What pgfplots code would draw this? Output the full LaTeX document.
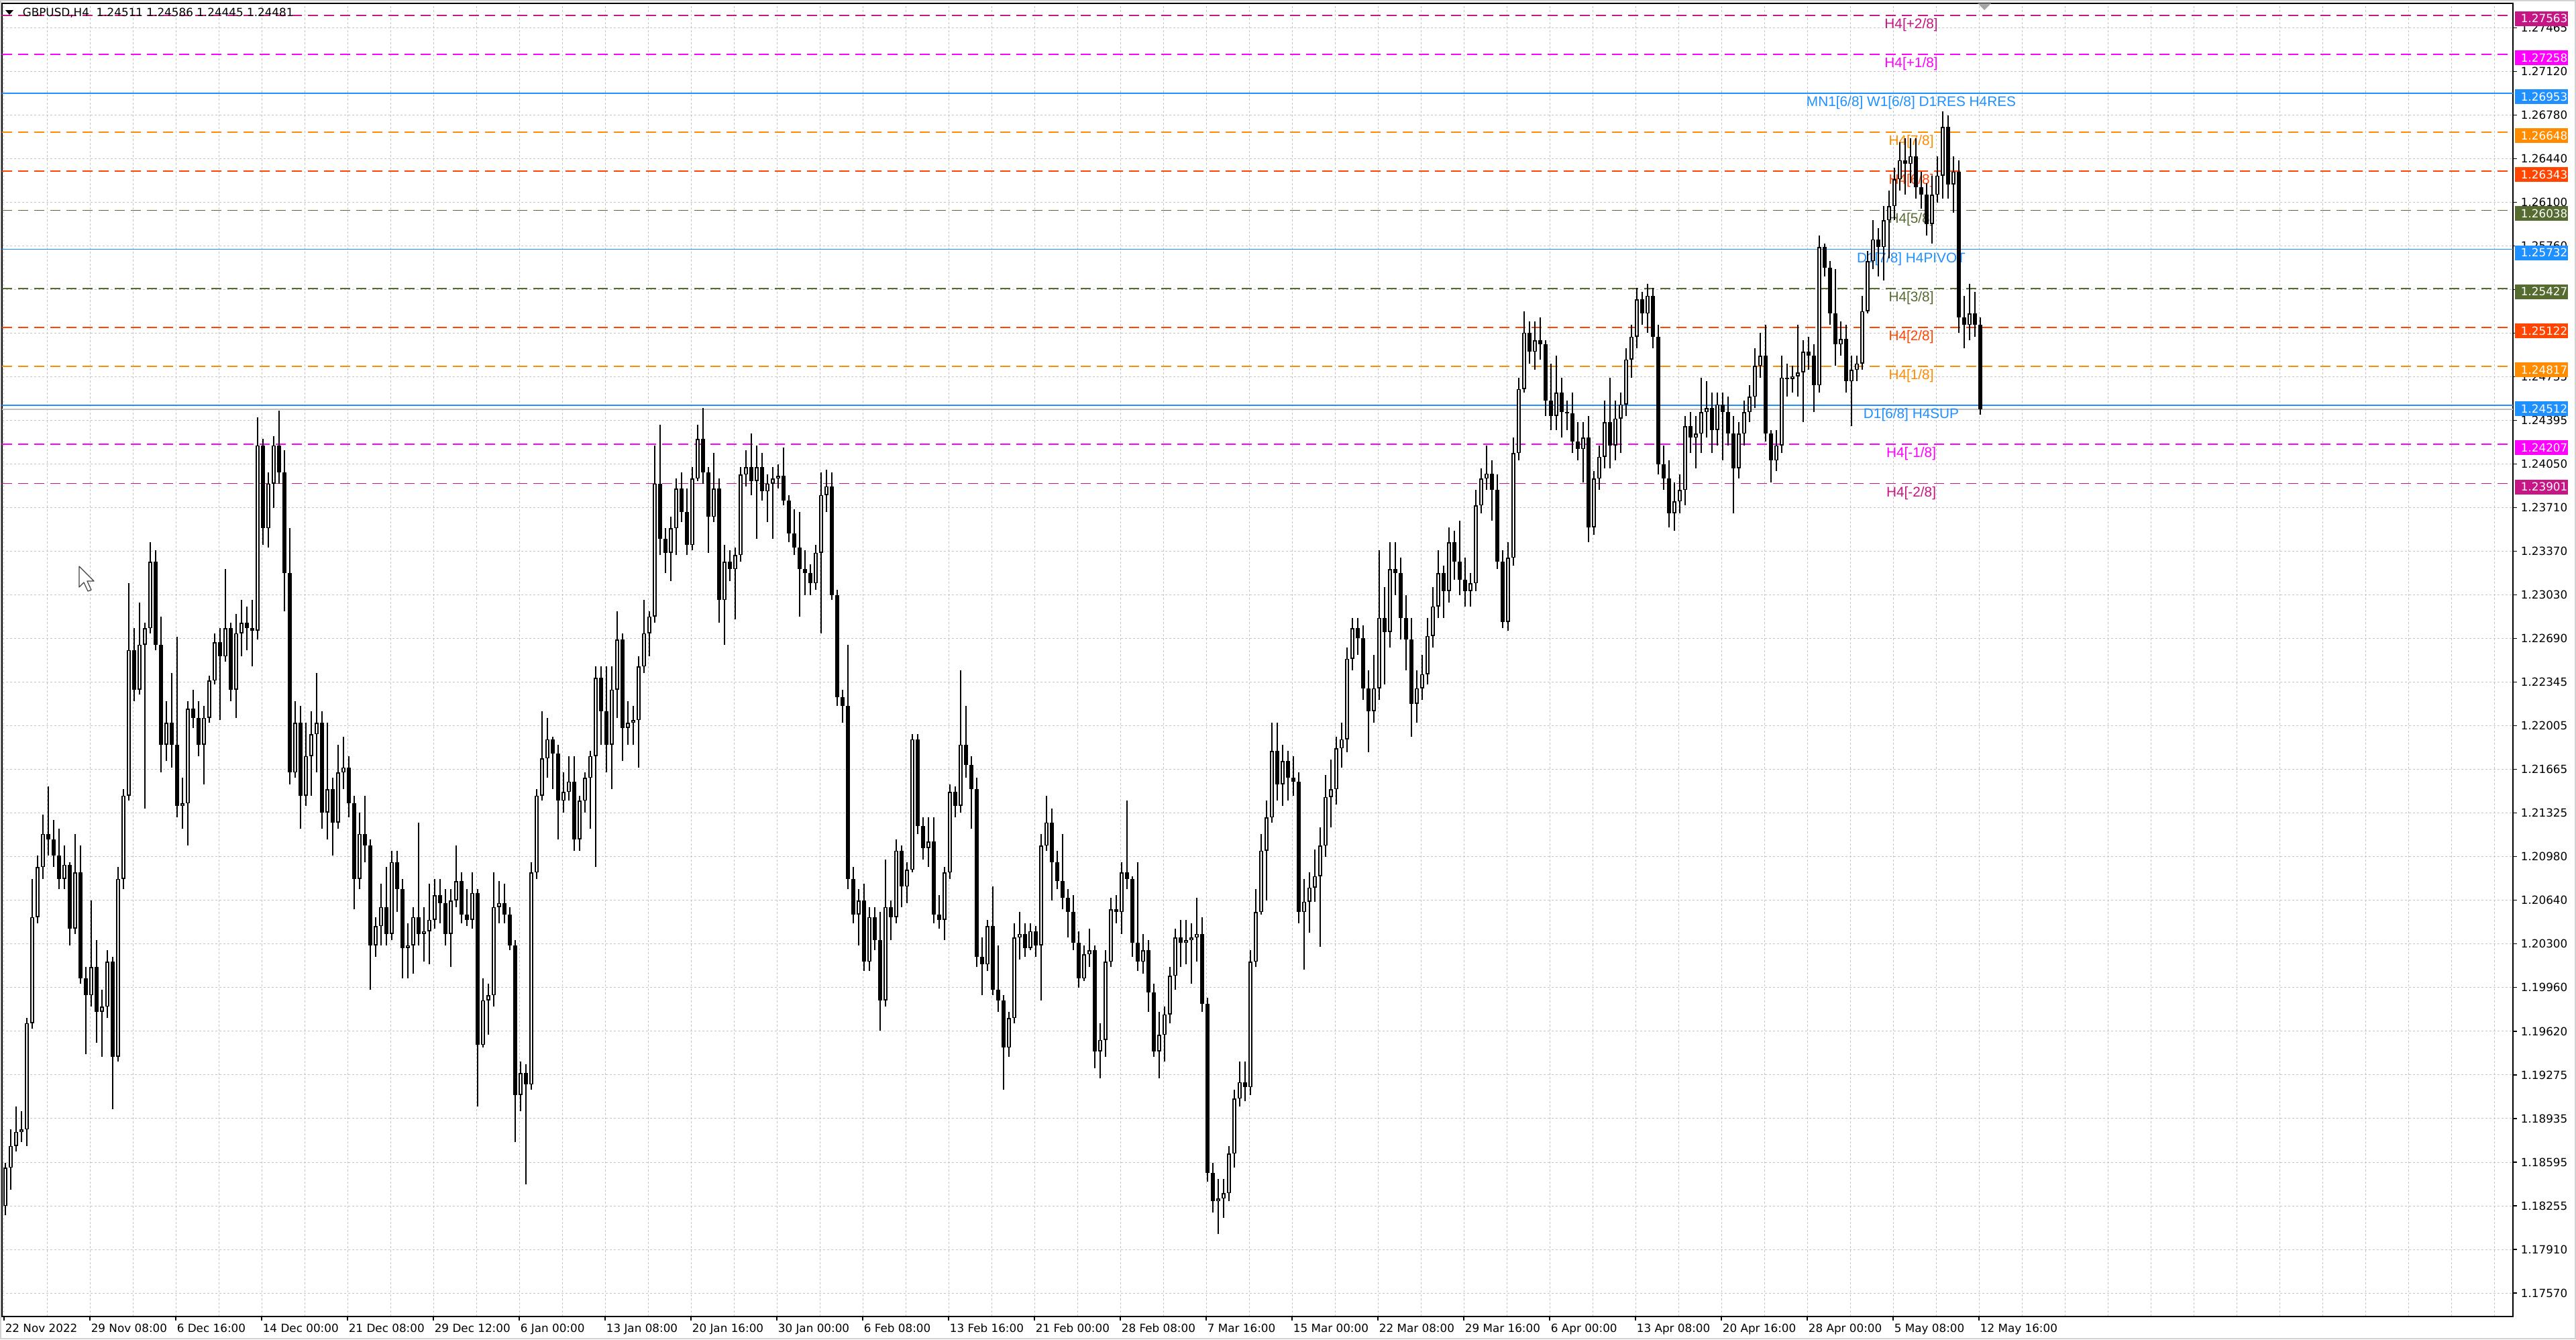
\documentclass[border=0pt]{standalone}
\usepackage{fontspec}
\setmainfont{DejaVu Sans}
\newfontfamily\labf{Liberation Sans}
\usepackage{pgfplots}
\usepackage{pgfplotstable}
\pgfplotsset{compat=1.18}

\definecolor{mvr}{HTML}{C71585}
\definecolor{mag}{HTML}{FF00FF}
\definecolor{dblue}{HTML}{1E90FF}
\definecolor{dorange}{HTML}{FF8C00}
\definecolor{ored}{HTML}{FF4500}
\definecolor{olive}{HTML}{556B2F}
\definecolor{gridc}{HTML}{C4C4C4}
\definecolor{bidc}{HTML}{C0C0C0}

\newcommand\axf{\fontsize{4.2}{5}\selectfont}
\newcommand\lvl{\labf\fontsize{5.2}{6}\selectfont}

% GBPUSD H4, two bars per candle: open high low close
\pgfplotstableread{
o h l c
1.1825 1.1859 1.1818 1.1855
1.1855 1.1885 1.1838 1.1872
1.1872 1.1903 1.1868 1.1883
1.1883 1.1899 1.1875 1.1885
1.1885 1.1972 1.1872 1.1968
1.1968 1.2081 1.1964 1.2051
1.2051 1.2099 1.2046 1.2090
1.2090 1.2131 1.2081 1.2116
1.2116 1.2153 1.2099 1.2112
1.2112 1.2127 1.2090 1.2099
1.2099 1.2120 1.2073 1.2081
1.2081 1.2107 1.2073 1.2092
1.2092 1.2094 1.2029 1.2042
1.2042 1.2116 1.2038 1.2086
1.2086 1.2107 1.1999 1.2003
1.2003 1.2012 1.1944 1.1990
1.1990 1.2064 1.1981 1.2012
1.2012 1.2033 1.1953 1.1977
1.1977 1.1994 1.1942 1.1981
1.1981 1.2025 1.1972 1.2016
1.2016 1.2020 1.1901 1.1942
1.1942 1.2090 1.1938 1.2081
1.2081 1.2151 1.2073 1.2146
1.2146 1.2312 1.2142 1.2260
1.2260 1.2277 1.2220 1.2229
1.2229 1.2297 1.2225 1.2264
1.2264 1.2281 1.2136 1.2277
1.2277 1.2344 1.2273 1.2329
1.2329 1.2338 1.2260 1.2264
1.2264 1.2286 1.2164 1.2186
1.2186 1.2220 1.2173 1.2203
1.2203 1.2242 1.2168 1.2186
1.2186 1.2270 1.2129 1.2138
1.2138 1.2160 1.2120 1.2140
1.2140 1.2220 1.2107 1.2214
1.2214 1.2229 1.2199 1.2207
1.2207 1.2220 1.2177 1.2186
1.2186 1.2216 1.2155 1.2207
1.2207 1.2240 1.2203 1.2236
1.2236 1.2273 1.2233 1.2266
1.2266 1.2277 1.2205 1.2255
1.2255 1.2323 1.2251 1.2277
1.2277 1.2281 1.2220 1.2229
1.2229 1.2288 1.2207 1.2273
1.2273 1.2299 1.2255 1.2281
1.2281 1.2294 1.2260 1.2277
1.2277 1.2299 1.2247 1.2275
1.2275 1.2442 1.2268 1.2420
1.2420 1.2425 1.2342 1.2355
1.2355 1.2399 1.2340 1.2390
1.2390 1.2427 1.2371 1.2420
1.2420 1.2447 1.2390 1.2399
1.2399 1.2416 1.2290 1.2320
1.2320 1.2355 1.2155 1.2164
1.2164 1.2220 1.2160 1.2203
1.2203 1.2216 1.2120 1.2146
1.2146 1.2203 1.2138 1.2177
1.2177 1.2212 1.2146 1.2194
1.2194 1.2242 1.2164 1.2203
1.2203 1.2212 1.2120 1.2133
1.2133 1.2203 1.2112 1.2151
1.2151 1.2160 1.2099 1.2125
1.2125 1.2186 1.2120 1.2164
1.2164 1.2192 1.2151 1.2168
1.2168 1.2177 1.2129 1.2140
1.2140 1.2146 1.2057 1.2081
1.2081 1.2133 1.2073 1.2116
1.2116 1.2146 1.2094 1.2107
1.2107 1.2112 1.1994 1.2029
1.2029 1.2051 1.2020 1.2044
1.2044 1.2077 1.2029 1.2059
1.2059 1.2090 1.2029 1.2038
1.2038 1.2103 1.2033 1.2094
1.2094 1.2103 1.2055 1.2073
1.2073 1.2081 1.2003 1.2027
1.2027 1.2046 1.2003 1.2029
1.2029 1.2059 1.2007 1.2051
1.2051 1.2125 1.2029 1.2038
1.2038 1.2059 1.2016 1.2040
1.2040 1.2077 1.2014 1.2049
1.2049 1.2081 1.2042 1.2068
1.2068 1.2081 1.2046 1.2062
1.2062 1.2073 1.2029 1.2038
1.2038 1.2073 1.2012 1.2064
1.2064 1.2107 1.2059 1.2079
1.2079 1.2086 1.2046 1.2053
1.2053 1.2073 1.2044 1.2049
1.2049 1.2086 1.2042 1.2070
1.2070 1.2073 1.1903 1.1951
1.1951 1.2003 1.1949 1.1986
1.1986 1.1999 1.1959 1.1990
1.1990 1.2086 1.1981 1.2059
1.2059 1.2079 1.2046 1.2062
1.2062 1.2077 1.2046 1.2053
1.2053 1.2059 1.2025 1.2029
1.2029 1.2033 1.1875 1.1912
1.1912 1.1938 1.1899 1.1929
1.1929 1.1936 1.1842 1.1920
1.1920 1.2094 1.1916 1.2086
1.2086 1.2151 1.2081 1.2146
1.2146 1.2212 1.2142 1.2175
1.2175 1.2207 1.2160 1.2190
1.2190 1.2192 1.2151 1.2179
1.2179 1.2186 1.2112 1.2142
1.2142 1.2164 1.2133 1.2149
1.2149 1.2177 1.2142 1.2157
1.2157 1.2177 1.2103 1.2112
1.2112 1.2146 1.2103 1.2142
1.2142 1.2164 1.2133 1.2160
1.2160 1.2181 1.2120 1.2177
1.2177 1.2247 1.2090 1.2238
1.2238 1.2247 1.2186 1.2212
1.2212 1.2247 1.2164 1.2186
1.2186 1.2247 1.2151 1.2229
1.2229 1.2290 1.2207 1.2268
1.2268 1.2273 1.2173 1.2199
1.2199 1.2220 1.2186 1.2203
1.2203 1.2216 1.2186 1.2205
1.2205 1.2255 1.2168 1.2247
1.2247 1.2299 1.2242 1.2273
1.2273 1.2290 1.2255 1.2286
1.2286 1.2420 1.2281 1.2390
1.2390 1.2436 1.2334 1.2347
1.2347 1.2355 1.2320 1.2336
1.2336 1.2364 1.2314 1.2355
1.2355 1.2394 1.2334 1.2386
1.2386 1.2399 1.2360 1.2368
1.2368 1.2386 1.2334 1.2342
1.2342 1.2403 1.2338 1.2394
1.2394 1.2436 1.2392 1.2425
1.2425 1.2449 1.2390 1.2399
1.2399 1.2403 1.2336 1.2364
1.2364 1.2414 1.2360 1.2386
1.2386 1.2394 1.2281 1.2299
1.2299 1.2342 1.2264 1.2329
1.2329 1.2338 1.2314 1.2323
1.2323 1.2340 1.2284 1.2334
1.2334 1.2403 1.2329 1.2397
1.2397 1.2416 1.2388 1.2403
1.2403 1.2429 1.2381 1.2392
1.2392 1.2420 1.2347 1.2403
1.2403 1.2414 1.2377 1.2384
1.2384 1.2397 1.2360 1.2390
1.2390 1.2403 1.2347 1.2394
1.2394 1.2405 1.2386 1.2396
1.2396 1.2418 1.2373 1.2377
1.2377 1.2381 1.2344 1.2351
1.2351 1.2370 1.2334 1.2340
1.2340 1.2368 1.2286 1.2323
1.2323 1.2338 1.2303 1.2320
1.2320 1.2327 1.2303 1.2312
1.2312 1.2342 1.2307 1.2336
1.2336 1.2399 1.2273 1.2381
1.2381 1.2401 1.2368 1.2388
1.2388 1.2399 1.2299 1.2303
1.2303 1.2307 1.2216 1.2223
1.2223 1.2229 1.2203 1.2216
1.2216 1.2264 1.2073 1.2081
1.2081 1.2090 1.2046 1.2053
1.2053 1.2073 1.2029 1.2064
1.2064 1.2077 1.2009 1.2016
1.2016 1.2059 1.2009 1.2051
1.2051 1.2059 1.2025 1.2033
1.2033 1.2055 1.1962 1.1986
1.1986 1.2096 1.1981 1.2059
1.2059 1.2064 1.2033 1.2051
1.2051 1.2112 1.2046 1.2103
1.2103 1.2107 1.2059 1.2075
1.2075 1.2094 1.2062 1.2088
1.2088 1.2194 1.2086 1.2190
1.2190 1.2194 1.2116 1.2122
1.2122 1.2129 1.2096 1.2105
1.2105 1.2129 1.2090 1.2110
1.2110 1.2129 1.2046 1.2053
1.2053 1.2068 1.2042 1.2049
1.2049 1.2090 1.2033 1.2086
1.2086 1.2155 1.2081 1.2149
1.2149 1.2153 1.2129 1.2138
1.2138 1.2244 1.2133 1.2186
1.2186 1.2216 1.2160 1.2170
1.2170 1.2177 1.2120 1.2151
1.2151 1.2160 1.2012 1.2020
1.2020 1.2035 1.1990 1.2014
1.2014 1.2049 1.2009 1.2044
1.2044 1.2075 1.1990 1.1994
1.1994 1.2029 1.1977 1.1986
1.1986 1.1990 1.1916 1.1949
1.1949 1.1977 1.1942 1.1972
1.1972 1.2046 1.1968 1.2035
1.2035 1.2055 1.2018 1.2038
1.2038 1.2046 1.2020 1.2027
1.2027 1.2046 1.2025 1.2040
1.2040 1.2044 1.2020 1.2029
1.2029 1.2116 1.1986 1.2107
1.2107 1.2146 1.2103 1.2125
1.2125 1.2136 1.2064 1.2094
1.2094 1.2103 1.2073 1.2079
1.2079 1.2116 1.2057 1.2066
1.2066 1.2073 1.2035 1.2055
1.2055 1.2068 1.2025 1.2031
1.2031 1.2040 1.1996 1.2003
1.2003 1.2029 1.2001 1.2022
1.2022 1.2042 1.2012 1.2025
1.2025 1.2029 1.1933 1.1946
1.1946 1.1968 1.1925 1.1955
1.1955 1.2025 1.1942 1.2016
1.2016 1.2066 1.2012 1.2057
1.2057 1.2068 1.2046 1.2055
1.2055 1.2094 1.2038 1.2086
1.2086 1.2142 1.2073 1.2081
1.2081 1.2083 1.2020 1.2031
1.2031 1.2094 1.2009 1.2016
1.2016 1.2038 1.2007 1.2025
1.2025 1.2033 1.1977 1.1992
1.1992 1.1999 1.1942 1.1946
1.1946 1.1977 1.1925 1.1959
1.1959 1.1981 1.1938 1.1975
1.1975 1.2012 1.1968 1.2005
1.2005 1.2042 1.1994 1.2035
1.2035 1.2049 1.2012 1.2031
1.2031 1.2049 1.2014 1.2033
1.2033 1.2046 1.1999 1.2035
1.2035 1.2066 1.2016 1.2038
1.2038 1.2051 1.1977 1.1983
1.1983 1.1988 1.1844 1.1851
1.1851 1.1859 1.1820 1.1829
1.1829 1.1846 1.1803 1.1831
1.1831 1.1846 1.1816 1.1835
1.1835 1.1872 1.1829 1.1866
1.1866 1.1916 1.1855 1.1909
1.1909 1.1938 1.1903 1.1922
1.1922 1.1938 1.1907 1.1918
1.1918 1.2025 1.1912 1.2016
1.2016 1.2073 1.2012 1.2055
1.2055 1.2116 1.2053 1.2103
1.2103 1.2142 1.2064 1.2129
1.2129 1.2203 1.2125 1.2181
1.2181 1.2203 1.2142 1.2155
1.2155 1.2186 1.2138 1.2173
1.2173 1.2181 1.2142 1.2160
1.2160 1.2177 1.2146 1.2157
1.2157 1.2164 1.2046 1.2055
1.2055 1.2081 1.2010 1.2063
1.2063 1.2086 1.2039 1.2074
1.2074 1.2104 1.2063 1.2083
1.2083 1.2121 1.2028 1.2107
1.2107 1.2162 1.2098 1.2145
1.2145 1.2174 1.2121 1.2151
1.2151 1.2192 1.2139 1.2183
1.2183 1.2203 1.2168 1.2190
1.2190 1.2262 1.2180 1.2253
1.2253 1.2285 1.2244 1.2277
1.2277 1.2285 1.2256 1.2269
1.2269 1.2279 1.2221 1.2230
1.2230 1.2244 1.2180 1.2212
1.2212 1.2256 1.2203 1.2230
1.2230 1.2338 1.2221 1.2285
1.2285 1.2309 1.2233 1.2274
1.2274 1.2344 1.2262 1.2323
1.2323 1.2344 1.2303 1.2320
1.2320 1.2332 1.2268 1.2285
1.2285 1.2303 1.2244 1.2268
1.2268 1.2285 1.2192 1.2218
1.2218 1.2244 1.2203 1.2230
1.2230 1.2256 1.2221 1.2241
1.2241 1.2285 1.2233 1.2271
1.2271 1.2309 1.2262 1.2294
1.2294 1.2338 1.2285 1.2320
1.2320 1.2326 1.2285 1.2306
1.2306 1.2356 1.2297 1.2344
1.2344 1.2353 1.2315 1.2329
1.2329 1.2361 1.2303 1.2315
1.2315 1.2332 1.2294 1.2306
1.2306 1.2320 1.2294 1.2312
1.2312 1.2385 1.2306 1.2373
1.2373 1.2402 1.2367 1.2394
1.2394 1.2420 1.2385 1.2398
1.2398 1.2408 1.2361 1.2385
1.2385 1.2397 1.2323 1.2329
1.2329 1.2338 1.2277 1.2282
1.2282 1.2344 1.2275 1.2332
1.2332 1.2426 1.2326 1.2414
1.2414 1.2473 1.2408 1.2464
1.2464 1.2525 1.2461 1.2508
1.2508 1.2517 1.2484 1.2493
1.2493 1.2517 1.2479 1.2502
1.2502 1.2520 1.2487 1.2499
1.2499 1.2502 1.2443 1.2455
1.2455 1.2484 1.2432 1.2443
1.2443 1.2490 1.2432 1.2461
1.2461 1.2473 1.2426 1.2446
1.2446 1.2455 1.2432 1.2445
1.2445 1.2461 1.2414 1.2423
1.2423 1.2438 1.2408 1.2417
1.2417 1.2438 1.2391 1.2426
1.2426 1.2443 1.2344 1.2356
1.2356 1.2400 1.2350 1.2394
1.2394 1.2420 1.2385 1.2411
1.2411 1.2455 1.2402 1.2438
1.2438 1.2473 1.2402 1.2420
1.2420 1.2455 1.2408 1.2441
1.2441 1.2461 1.2414 1.2452
1.2452 1.2496 1.2443 1.2487
1.2487 1.2514 1.2473 1.2505
1.2505 1.2543 1.2496 1.2534
1.2534 1.2540 1.2514 1.2523
1.2523 1.2546 1.2508 1.2537
1.2537 1.2543 1.2496 1.2505
1.2505 1.2514 1.2397 1.2405
1.2405 1.2420 1.2385 1.2394
1.2394 1.2408 1.2356 1.2367
1.2367 1.2391 1.2353 1.2376
1.2376 1.2397 1.2367 1.2385
1.2385 1.2443 1.2373 1.2435
1.2435 1.2446 1.2414 1.2426
1.2426 1.2443 1.2402 1.2429
1.2429 1.2473 1.2414 1.2446
1.2446 1.2470 1.2426 1.2449
1.2449 1.2461 1.2414 1.2432
1.2432 1.2461 1.2420 1.2452
1.2452 1.2461 1.2408 1.2446
1.2446 1.2458 1.2420 1.2429
1.2429 1.2443 1.2367 1.2402
1.2402 1.2438 1.2394 1.2429
1.2429 1.2455 1.2420 1.2446
1.2446 1.2467 1.2438 1.2458
1.2458 1.2496 1.2449 1.2482
1.2482 1.2508 1.2473 1.2490
1.2490 1.2514 1.2423 1.2429
1.2429 1.2432 1.2391 1.2408
1.2408 1.2432 1.2400 1.2420
1.2420 1.2490 1.2414 1.2473
1.2473 1.2484 1.2458 1.2472
1.2472 1.2482 1.2461 1.2474
1.2474 1.2514 1.2458 1.2477
1.2477 1.2502 1.2438 1.2493
1.2493 1.2505 1.2479 1.2490
1.2490 1.2499 1.2446 1.2467
1.2467 1.2584 1.2461 1.2575
1.2575 1.2578 1.2552 1.2559
1.2559 1.2564 1.2514 1.2523
1.2523 1.2558 1.2482 1.2499
1.2499 1.2517 1.2490 1.2503
1.2503 1.2514 1.2461 1.2470
1.2470 1.2490 1.2435 1.2479
1.2479 1.2490 1.2470 1.2484
1.2484 1.2537 1.2479 1.2525
1.2525 1.2572 1.2523 1.2564
1.2564 1.2596 1.2558 1.2581
1.2581 1.2590 1.2552 1.2575
1.2575 1.2607 1.2549 1.2596
1.2596 1.2619 1.2566 1.2607
1.2607 1.2637 1.2596 1.2628
1.2628 1.2657 1.2619 1.2643
1.2643 1.2660 1.2616 1.2640
1.2640 1.2660 1.2625 1.2646
1.2646 1.2660 1.2613 1.2622
1.2622 1.2634 1.2605 1.2616
1.2616 1.2625 1.2584 1.2593
1.2593 1.2631 1.2578 1.2616
1.2616 1.2646 1.2610 1.2631
1.2631 1.2681 1.2613 1.2669
1.2669 1.2678 1.2613 1.2624
1.2624 1.2646 1.2602 1.2634
1.2634 1.2643 1.2508 1.2520
1.2520 1.2537 1.2496 1.2514
1.2514 1.2546 1.2502 1.2523
1.2523 1.2540 1.2505 1.2514
1.2514 1.2520 1.2444 1.2448
}\candles

\begin{document}
\begin{tikzpicture}
\useasboundingbox (0,0) rectangle (960pt,-499pt);
\fill[white] (0,0) rectangle (960pt,-499pt);
\begin{axis}[
    at={(0.75pt,-490.5pt)}, anchor=south west,
    scale only axis, width=935.75pt, height=489.25pt,
    xmin=-0.75, xmax=935, ymin=1.173863, ymax=1.27656,
    axis line style={black, line width=0.4pt},
    xtick={0,16,...,928}, xticklabels={},
    ytick={1.274650,1.271238,1.267826,1.264414,1.261002,1.257590,1.254177,1.250765,1.247353,1.243941,1.240529,1.237117,1.233705,1.230293,1.226881,1.223469,1.220056,1.216644,1.213232,1.209820,1.206408,1.202996,1.199584,1.196172,1.192760,1.189348,1.185935,1.182523,1.179111,1.175699},
    yticklabels={},
    major tick length=0pt,
    grid=major,
    major grid style={gridc, line width=0.25pt, dash pattern=on 0.75pt off 0.75pt},
  ]
  % current bid line
  \addplot[bidc, line width=0.4pt, forget plot] coordinates {(-0.75,1.24481) (935,1.24481)};
  % levels
  \addplot[mvr, line width=0.4pt, dash pattern=on 3.75pt off 2.25pt] coordinates {(-0.75,1.27563) (935,1.27563)};
  \addplot[mag, line width=0.4pt, dash pattern=on 3.75pt off 2.25pt] coordinates {(-0.75,1.27258) (935,1.27258)};
  \addplot[dblue, line width=0.4pt] coordinates {(-0.75,1.26953) (935,1.26953)};
  \addplot[dorange, line width=0.4pt, dash pattern=on 3.75pt off 2.25pt] coordinates {(-0.75,1.26648) (935,1.26648)};
  \addplot[ored, line width=0.4pt, dash pattern=on 3.75pt off 2.25pt] coordinates {(-0.75,1.26343) (935,1.26343)};
  \addplot[olive, line width=0.4pt, dash pattern=on 3.75pt off 2.25pt] coordinates {(-0.75,1.26038) (935,1.26038)};
  \addplot[dblue, line width=0.4pt] coordinates {(-0.75,1.25732) (935,1.25732)};
  \addplot[olive, line width=0.4pt, dash pattern=on 3.75pt off 2.25pt] coordinates {(-0.75,1.25427) (935,1.25427)};
  \addplot[ored, line width=0.4pt, dash pattern=on 3.75pt off 2.25pt] coordinates {(-0.75,1.25122) (935,1.25122)};
  \addplot[dorange, line width=0.4pt, dash pattern=on 3.75pt off 2.25pt] coordinates {(-0.75,1.24817) (935,1.24817)};
  \addplot[dblue, line width=0.4pt] coordinates {(-0.75,1.24512) (935,1.24512)};
  \addplot[mag, line width=0.4pt, dash pattern=on 3.75pt off 2.25pt] coordinates {(-0.75,1.24207) (935,1.24207)};
  \addplot[mvr, line width=0.4pt, dash pattern=on 3.75pt off 2.25pt] coordinates {(-0.75,1.23901) (935,1.23901)};
  % level captions
  \node[anchor=base, inner sep=0pt, yshift=-4.86pt, font=\lvl, text=mvr] at (axis cs:710.75,1.27563) {H4[+2/8]};
  \node[anchor=base, inner sep=0pt, yshift=-4.86pt, font=\lvl, text=mag] at (axis cs:710.75,1.27258) {H4[+1/8]};
  \node[anchor=base, inner sep=0pt, yshift=-4.86pt, font=\lvl, text=dblue] at (axis cs:710.75,1.26953) {MN1[6/8] W1[6/8] D1RES H4RES};
  \node[anchor=base, inner sep=0pt, yshift=-4.86pt, font=\lvl, text=dorange] at (axis cs:710.75,1.26648) {H4[7/8]};
  \node[anchor=base, inner sep=0pt, yshift=-4.86pt, font=\lvl, text=ored] at (axis cs:710.75,1.26343) {H4[6/8]};
  \node[anchor=base, inner sep=0pt, yshift=-4.86pt, font=\lvl, text=olive] at (axis cs:710.75,1.26038) {H4[5/8]};
  \node[anchor=base, inner sep=0pt, yshift=-4.86pt, font=\lvl, text=dblue] at (axis cs:710.75,1.25732) {D1[7/8] H4PIVOT};
  \node[anchor=base, inner sep=0pt, yshift=-4.86pt, font=\lvl, text=olive] at (axis cs:710.75,1.25427) {H4[3/8]};
  \node[anchor=base, inner sep=0pt, yshift=-4.86pt, font=\lvl, text=ored] at (axis cs:710.75,1.25122) {H4[2/8]};
  \node[anchor=base, inner sep=0pt, yshift=-4.86pt, font=\lvl, text=dorange] at (axis cs:710.75,1.24817) {H4[1/8]};
  \node[anchor=base, inner sep=0pt, yshift=-4.86pt, font=\lvl, text=dblue] at (axis cs:710.75,1.24512) {D1[6/8] H4SUP};
  \node[anchor=base, inner sep=0pt, yshift=-4.86pt, font=\lvl, text=mag] at (axis cs:710.75,1.24207) {H4[-1/8]};
  \node[anchor=base, inner sep=0pt, yshift=-4.86pt, font=\lvl, text=mvr] at (axis cs:710.75,1.23901) {H4[-2/8]};
  % wicks
  \addplot[draw=none, mark=none, forget plot,
    error bars/.cd, y dir=plus, y explicit, error mark=none,
    error bar style={draw=black, solid, line width=0.3pt}]
    table[x expr=\coordindex*2+0.5, y=l, y error plus expr={\thisrow{h}-\thisrow{l}}] {\candles};
  % bodies
  \addplot[draw=none, mark=none, forget plot,
    error bars/.cd, y dir=plus, y explicit, error mark=none,
    error bar style={draw=black, solid, line width=1.5pt}]
    table[x expr=\coordindex*2+0.5, y expr={min(\thisrow{o},\thisrow{c})},
          y error plus expr={max(abs(\thisrow{c}-\thisrow{o}),0.00006)}] {\candles};
  % hollow inside of rising candles
  \addplot[draw=none, mark=none, forget plot,
    error bars/.cd, y dir=plus, y explicit, error mark=none,
    error bar style={draw=white, solid, line width=0.6pt}]
    table[x expr=\coordindex*2+0.5, y expr={min(\thisrow{o},\thisrow{c})+0.00008},
          y error plus expr={max(\thisrow{c}-\thisrow{o}-0.00016,0)}] {\candles};
\end{axis}

% annotations in screen pixels of the reference (origin top left)
\begin{scope}[x=0.25pt, y=-0.25pt, font=\axf]
  \draw[black!18, line width=0.4pt] (1,1) rectangle (3839,1995);
  % header
  \fill[black] (8,15) -- (20,15) -- (14,22) -- cycle;
  \node[anchor=base west, inner sep=0pt] at (33,24.1) {GBPUSD,H4\ \ 1.24511 1.24586 1.24445 1.24481};
  % chart shift marker
  \fill[black!35] (2948,5) -- (2968,5) -- (2958,15) -- cycle;
  % mouse pointer
  \draw[black!75, fill=white, line width=0.3pt, line join=round]
    (118,844) -- ++(0,31) -- ++(7,-7) -- ++(6,13) -- ++(5,-2) -- ++(-6,-13) -- ++(10,0) -- cycle;
  % price scale
  \foreach \lab [count=\n from 0] in {1.27465,1.27120,1.26780,1.26440,1.26100,1.25760,1.25420,1.25080,1.24735,1.24395,1.24050,1.23710,1.23370,1.23030,1.22690,1.22345,1.22005,1.21665,1.21325,1.20980,1.20640,1.20300,1.19960,1.19620,1.19275,1.18935,1.18595,1.18255,1.17910,1.17570}{
    \draw[black, line width=0.3pt] (3746,41.4+65.02*\n) -- ++(6,0);
    \node[anchor=base west, inner sep=0pt] at (3757,47.5+65.02*\n) {\lab};
  }
  % level price boxes
  \foreach \p/\col/\yy in {1.27563/mvr/22.7, 1.27258/mag/80.9, 1.26953/dblue/139.0, 1.26648/dorange/197.1, 1.26343/ored/255.2, 1.26038/olive/313.3, 1.25732/dblue/371.6, 1.25427/olive/429.8, 1.25122/ored/487.9, 1.24817/dorange/546.0, 1.24512/dblue/604.1, 1.24207/mag/662.2, 1.23901/mvr/720.6}{
    \fill[\col] (3749,\yy-6) rectangle (3828,\yy+16);
    \node[anchor=base west, inner sep=0pt, text=white] at (3757,\yy+11.1) {\p};
  }
  % time scale
  \foreach \lab [count=\n from 0] in {22 Nov 2022,29 Nov 08:00,6 Dec 16:00,14 Dec 00:00,21 Dec 08:00,29 Dec 12:00,6 Jan 00:00,13 Jan 08:00,20 Jan 16:00,30 Jan 00:00,6 Feb 08:00,13 Feb 16:00,21 Feb 00:00,28 Feb 08:00,7 Mar 16:00,15 Mar 00:00,22 Mar 08:00,29 Mar 16:00,6 Apr 00:00,13 Apr 08:00,20 Apr 16:00,28 Apr 00:00,5 May 08:00,12 May 16:00}{
    \draw[black, line width=0.3pt] (6+128*\n,1962) -- ++(0,6);
    \node[anchor=base west, inner sep=0pt] at (7+128*\n,1985) {\lab};
  }
\end{scope}
\end{tikzpicture}
\end{document}
